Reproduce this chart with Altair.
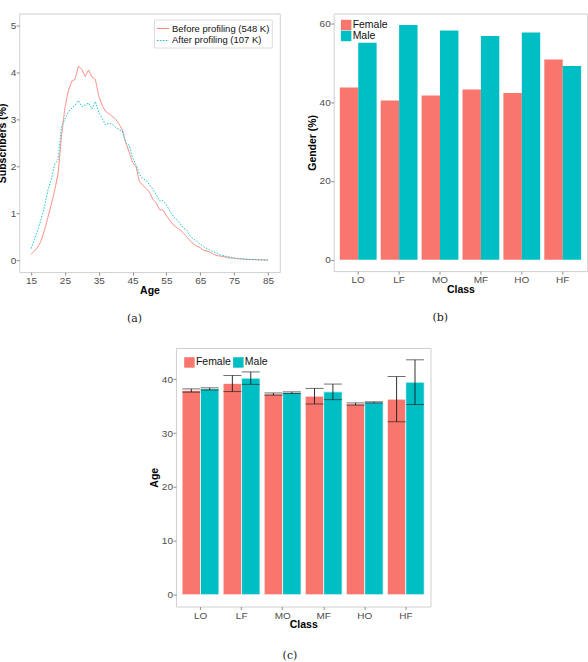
import altair as alt
import pandas as pd

# ---- (a) age distribution of subscribers -------------------------------
ages = list(range(15, 86))
before_profiling = [
    0.13, 0.20, 0.28, 0.42, 0.65, 0.92, 1.20, 1.50, 1.85, 2.65,
    3.24, 3.60, 3.81, 3.85, 4.13, 4.06, 3.91, 4.05, 3.90, 3.85,
    3.50, 3.30, 3.17, 3.12, 3.06, 3.00, 2.90, 2.77, 2.50, 2.30,
    2.08, 2.00, 1.68, 1.60, 1.53, 1.45, 1.30, 1.22, 1.08, 1.07,
    0.95, 0.85, 0.76, 0.70, 0.65, 0.58, 0.50, 0.42, 0.35, 0.30,
    0.27, 0.21, 0.20, 0.17, 0.13, 0.10, 0.09, 0.08, 0.06, 0.05,
    0.045, 0.035, 0.03, 0.025, 0.02, 0.018, 0.015, 0.012, 0.01, 0.008,
    0.005,
]
after_profiling = [
    0.25, 0.45, 0.65, 0.88, 1.15, 1.50, 1.72, 2.05, 2.15, 2.85,
    3.00, 3.15, 3.24, 3.30, 3.40, 3.27, 3.30, 3.35, 3.22, 3.38,
    3.15, 3.02, 2.88, 2.92, 2.89, 2.83, 2.78, 2.75, 2.50, 2.45,
    2.18, 2.04, 1.83, 1.74, 1.70, 1.61, 1.51, 1.40, 1.26, 1.27,
    1.18, 1.05, 0.94, 0.87, 0.79, 0.69, 0.64, 0.52, 0.45, 0.41,
    0.34, 0.29, 0.25, 0.21, 0.18, 0.15, 0.12, 0.10, 0.08, 0.07,
    0.05, 0.04, 0.035, 0.03, 0.025, 0.02, 0.018, 0.015, 0.012, 0.01,
    0.008,
]
series_names = ["Before profiling (548 K)", "After profiling (107 K)"]
age_ticks = [15, 25, 35, 45, 55, 65, 75, 85]

# ---- (b) gender share per class, (c) mean age per class ----------------
classes = ["LO", "LF", "MO", "MF", "HO", "HF"]
genders = ["Female", "Male"]
gender_female = [43.7, 40.4, 41.7, 43.2, 42.3, 50.8]
gender_male = [55.1, 59.6, 58.2, 56.8, 57.7, 49.2]
age_female = [37.9, 39.2, 37.25, 36.85, 35.4, 36.3]
age_male = [38.2, 40.2, 37.5, 37.65, 35.7, 39.45]
age_female_err = [0.3, 1.5, 0.2, 1.45, 0.2, 4.2]
age_male_err = [0.2, 1.15, 0.15, 1.45, 0.1, 4.15]

RED = "#F8766D"
CYAN = "#00BFC4"
SANS = "Liberation Sans"
SERIF = "DejaVu Serif"


def caption(text, dx=0, offset=17):
    return alt.TitleParams(
        text, orient="bottom", anchor="middle", frame="bounds", font=SERIF,
        fontSize=11, fontWeight="normal", color="#222222", offset=offset, dx=dx,
    )


def x_axis(**kw):
    return alt.Axis(titlePadding=0, **kw)


def y_axis(**kw):
    return alt.Axis(titlePadding=2, **kw)


# ---- panel (a) ----------------------------------------------------------
line_df = pd.DataFrame({
    "age": ages + ages,
    "pct": before_profiling + after_profiling,
    "series": [series_names[0]] * len(ages) + [series_names[1]] * len(ages),
})

legend_a = alt.Legend(
    title=None, orient="none", legendX=135, legendY=6, symbolType="stroke",
    symbolSize=150, symbolStrokeWidth=1, labelFontSize=9.5, labelColor="#111111",
    labelFont=SANS, padding=2, strokeColor="#dddddd", fillColor="white",
    rowPadding=0, labelOffset=2,
)

panel_a = alt.Chart(line_df).mark_line(strokeWidth=0.9).encode(
    x=alt.X("age:Q", title="Age",
            scale=alt.Scale(domain=[11.5, 88.5], nice=False, zero=False),
            axis=x_axis(values=age_ticks)),
    y=alt.Y("pct:Q", title="Subscribers (%)",
            scale=alt.Scale(domain=[-0.25, 5.25], nice=False, zero=False),
            axis=alt.Axis(values=[0, 1, 2, 3, 4, 5], titlePadding=3)),
    color=alt.Color("series:N",
                    scale=alt.Scale(domain=series_names, range=[RED, CYAN]),
                    legend=legend_a),
    strokeDash=alt.StrokeDash("series:N",
                              scale=alt.Scale(domain=series_names, range=[[1, 0], [1.5, 1.5]]),
                              legend=legend_a),
).properties(width=261, height=259, title=caption("(a)", dx=-4))

# ---- panel (b) ----------------------------------------------------------
gender_df = pd.DataFrame({
    "cls": classes + classes,
    "gender": ["Female"] * 6 + ["Male"] * 6,
    "pct": gender_female + gender_male,
})

gender_color = alt.Scale(domain=genders, range=[RED, CYAN])
class_x = alt.X("cls:N", sort=classes, title="Class",
                scale=alt.Scale(paddingInner=0.1, paddingOuter=0.15),
                axis=x_axis(labelAngle=0))
gender_offset = alt.XOffset("gender:N", sort=genders,
                            scale=alt.Scale(paddingInner=0, paddingOuter=0))

panel_b = alt.Chart(gender_df).mark_bar().encode(
    x=class_x,
    xOffset=gender_offset,
    y=alt.Y("pct:Q", title="Gender (%)",
            scale=alt.Scale(domain=[-2.9, 62.5], nice=False, zero=False),
            axis=y_axis(values=[0, 20, 40, 60])),
    color=alt.Color("gender:N", scale=gender_color, legend=alt.Legend(
        title=None, orient="none", legendX=7, legendY=6, symbolType="square",
        symbolSize=110, symbolStrokeWidth=0, labelFontSize=10.5, labelFont=SANS,
        labelColor="#111111", padding=0, rowPadding=0, labelOffset=1,
    )),
).properties(width=254, height=258, title=caption("(b)", dx=-7))

# ---- panel (c) ----------------------------------------------------------
age_df = pd.DataFrame({
    "cls": classes + classes,
    "gender": ["Female"] * 6 + ["Male"] * 6,
    "age": age_female + age_male,
    "err": age_female_err + age_male_err,
})
age_df["lo"] = age_df["age"] - age_df["err"]
age_df["hi"] = age_df["age"] + age_df["err"]

age_y = alt.Y("age:Q", title="Age",
              scale=alt.Scale(domain=[-2.2, 45.8], nice=False, zero=False),
              axis=y_axis(values=[0, 10, 20, 30, 40]))

c_base = alt.Chart(age_df).encode(x=class_x, xOffset=gender_offset)

c_bars = c_base.mark_bar(stroke="white", strokeWidth=0.7).encode(
    y=age_y,
    color=alt.Color("gender:N", scale=gender_color, legend=alt.Legend(
        title=None, orient="none", legendX=8, legendY=9, direction="horizontal",
        columns=2, symbolType="square", symbolSize=110, symbolStrokeWidth=0,
        labelFontSize=10.5, labelFont=SANS, labelColor="#111111", padding=0,
        columnPadding=1, labelOffset=1,
    )),
)
c_whisker = c_base.mark_rule(color="#1a1a1a", strokeWidth=0.9).encode(
    y=alt.Y("lo:Q"), y2="hi:Q",
)
c_cap_hi = c_base.mark_tick(color="#1a1a1a", thickness=0.9, size=18, orient="horizontal").encode(
    y=alt.Y("hi:Q"),
)
c_cap_lo = c_base.mark_tick(color="#1a1a1a", thickness=0.9, size=18, orient="horizontal").encode(
    y=alt.Y("lo:Q"),
)

panel_c = alt.layer(c_bars, c_whisker, c_cap_hi, c_cap_lo).properties(
    width=255, height=259, title=caption("(c)", offset=20),
)

top_row = alt.hconcat(panel_a, panel_b, spacing=25).resolve_scale(
    color="independent", strokeDash="independent",
).resolve_legend(color="independent", strokeDash="independent")

chart = alt.vconcat(top_row, panel_c, spacing=22, center=True).resolve_scale(
    color="independent", strokeDash="independent",
).resolve_legend(
    color="independent", strokeDash="independent",
).properties(
    padding={"left": -4, "top": 12, "right": 0, "bottom": 0},
    background="white",
).configure_view(
    stroke="#cfcfcf", strokeWidth=1,
).configure_axis(
    domain=False, grid=False, tickColor="#8c8c8c", tickSize=3, tickWidth=1,
    labelFont=SANS, labelFontSize=10, labelColor="#4d4d4d", labelPadding=0.5,
    titleFont=SANS, titleFontSize=10.5, titleFontWeight="bold", titleColor="black",
)

chart.save("out.html", embed_options={"renderer": "svg", "actions": False})
